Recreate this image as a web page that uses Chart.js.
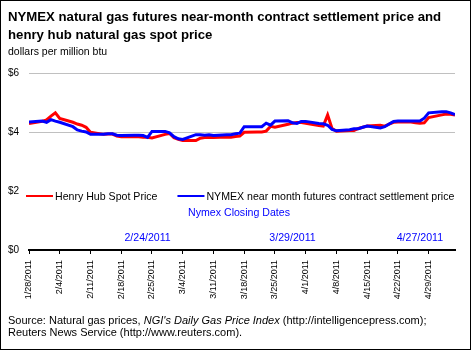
<!DOCTYPE html>
<html>
<head>
<meta charset="utf-8">
<script src="https://cdn.jsdelivr.net/npm/chart.js@4.4.1/dist/chart.umd.min.js"></script>
<style>
  html, body { margin: 0; padding: 0; background: #fff; }
  #wrap { position: relative; width: 471px; height: 350px; overflow: hidden; font-family: "Liberation Sans", Arial, sans-serif; color: #000; }
  #chart { position: absolute; left: 0; top: 0; }
  #frame { position: absolute; left: 0; top: 0; width: 471px; height: 350px; box-sizing: border-box; border: 1px solid #000; pointer-events: none; }
  .title { position: absolute; left: 8px; top: 8px; font-weight: bold; font-size: 13.2px; line-height: 18px; white-space: nowrap; }
  .units { position: absolute; left: 8px; top: 45px; font-size: 10.5px; line-height: 12px; }
  .source { position: absolute; left: 8px; top: 314px; font-size: 11px; line-height: 12px; white-space: nowrap; }
</style>
</head>
<body>
<div id="wrap">
  <canvas id="chart" width="471" height="350"></canvas>
  <div class="title">NYMEX natural gas futures near-month contract settlement price and<br>henry hub natural gas spot price</div>
  <div class="units">dollars per million btu</div>
  <div class="source">Source: Natural gas prices, <i>NGI's Daily Gas Price Index</i> (http://intelligencepress.com);<br>Reuters News Service (http://www.reuters.com).</div>
  <div id="frame"></div>
</div>
<script>
// 数据
const dates = [
    '1/28/2011', '1/31/2011', '2/1/2011', '2/2/2011', '2/3/2011', '2/4/2011',
    '2/7/2011', '2/8/2011', '2/9/2011', '2/10/2011', '2/11/2011',
    '2/14/2011', '2/15/2011', '2/16/2011', '2/17/2011', '2/18/2011',
    '2/21/2011', '2/22/2011', '2/23/2011', '2/24/2011', '2/25/2011',
    '2/28/2011', '3/1/2011', '3/2/2011', '3/3/2011', '3/4/2011',
    '3/7/2011', '3/8/2011', '3/9/2011', '3/10/2011', '3/11/2011',
    '3/14/2011', '3/15/2011', '3/16/2011', '3/17/2011', '3/18/2011',
    '3/21/2011', '3/22/2011', '3/23/2011', '3/24/2011', '3/25/2011',
    '3/28/2011', '3/29/2011', '3/30/2011', '3/31/2011', '4/1/2011',
    '4/4/2011', '4/5/2011', '4/6/2011', '4/7/2011', '4/8/2011',
    '4/11/2011', '4/12/2011', '4/13/2011', '4/14/2011', '4/15/2011',
    '4/18/2011', '4/19/2011', '4/20/2011', '4/21/2011', '4/22/2011',
    '4/25/2011', '4/26/2011', '4/27/2011', '4/28/2011', '4/29/2011',
    '5/2/2011', '5/3/2011', '5/4/2011', '5/5/2011'
];
const henryHub = [
    4.29, 4.36, 4.41, 4.54, 4.65, 4.46,
    4.33, 4.27, 4.23, 4.16, 3.99,
    3.92, 3.93, 3.93, 3.86, 3.84,
    3.84, 3.84, 3.82, 3.82, 3.80,
    3.92, 3.95, 3.81, 3.75, 3.71,
    3.71, 3.79, 3.81, 3.81, 3.81,
    3.83, 3.82, 3.85, 3.86, 3.99,
    4.00, 4.00, 4.03, 4.19, 4.16,
    4.26, 4.30, 4.32, 4.32, 4.30,
    4.22, 4.20, 4.58, 4.12, 4.03,
    4.05, 4.05, 4.12, 4.16, 4.20,
    4.23, 4.20, 4.27, 4.33, 4.34,
    4.34, 4.31, 4.30, 4.31, 4.49,
    4.58, 4.61, 4.60, 4.58
];
const nymex = [
    4.34, 4.37, 4.33, 4.42, 4.37, 4.33,
    4.18, 4.07, 4.03, 4.00, 3.92,
    3.92, 3.94, 3.94, 3.89, 3.88,
    3.89, 3.89, 3.88, 3.82, 4.02,
    4.02, 3.97, 3.84, 3.77, 3.75,
    3.91, 3.91, 3.89, 3.91, 3.88,
    3.91, 3.91, 3.94, 3.96, 4.18,
    4.18, 4.18, 4.30, 4.23, 4.37,
    4.38, 4.31, 4.29, 4.36, 4.36,
    4.29, 4.28, 4.23, 4.09, 4.04,
    4.08, 4.11, 4.11, 4.16, 4.20,
    4.14, 4.18, 4.27, 4.36, 4.37,
    4.37, 4.37, 4.37, 4.47, 4.65,
    4.69, 4.69, 4.65, 4.59
];
const tickDates = [
    '1/28/2011', '2/4/2011', '2/11/2011', '2/18/2011', '2/25/2011', '3/4/2011', '3/11/2011',
    '3/18/2011', '3/25/2011', '4/1/2011', '4/8/2011', '4/15/2011', '4/22/2011', '4/29/2011'
];
const closingDates = ['2/24/2011', '3/29/2011', '4/27/2011'];
const axisEnd = '5/5/2011';
const yTickLabels = ['$0', '$2', '$4', '$6'];

const FONT = '"Liberation Sans", Arial, sans-serif';
const start = new Date(2011, 0, 28);
function dayOf(s) {
    const p = s.split('/').map(Number);
    return Math.round((new Date(p[2], p[0] - 1, p[1]) - start) / 86400000);
}

// 图例和注释
const notes = {
    id: 'notes',
    afterDatasetsDraw(chart) {
        const ctx = chart.ctx;
        const a = chart.chartArea;
        const x = chart.scales.x;
        ctx.save();
        ctx.font = '10.6px ' + FONT;
        ctx.textBaseline = 'middle';
        ctx.textAlign = 'left';
        let lx = a.left - 3;
        const ly = a.top + 123;
        chart.data.datasets.forEach(ds => {
            ctx.strokeStyle = ds.borderColor;
            ctx.lineWidth = 2;
            ctx.beginPath();
            ctx.moveTo(lx, ly);
            ctx.lineTo(lx + 27, ly);
            ctx.stroke();
            ctx.fillStyle = '#000';
            ctx.fillText(ds.label, lx + 29, ly + 1);
            lx += 29 + ctx.measureText(ds.label).width + 20;
        });
        ctx.fillStyle = '#0000ff';
        ctx.textAlign = 'center';
        ctx.textBaseline = 'alphabetic';
        ctx.fillText('Nymex Closing Dates', a.left + 210, a.top + 143);
        closingDates.forEach(d => {
            ctx.fillText(d, x.getPixelForValue(dayOf(d)), a.top + 168);
        });
        ctx.restore();
    }
};

const ctx = document.getElementById('chart').getContext('2d');
new Chart(ctx, {
    type: 'line',
    data: {
        datasets: [{
            label: 'Henry Hub Spot Price',
            data: dates.map((d, i) => ({ x: dayOf(d), y: henryHub[i] })),
            borderColor: '#ff0000',
            borderWidth: 3,
            pointRadius: 0,
            tension: 0,
            order: 1
        }, {
            label: 'NYMEX near month futures contract settlement price',
            data: dates.map((d, i) => ({ x: dayOf(d), y: nymex[i] })),
            borderColor: '#0000ff',
            borderWidth: 3,
            pointRadius: 0,
            tension: 0,
            order: 0
        }]
    },
    options: {
        responsive: false,
        animation: false,
        layout: { padding: { left: 8, right: 16, top: 73, bottom: 40 } },
        plugins: {
            legend: { display: false },
            tooltip: { enabled: false }
        },
        scales: {
            x: {
                type: 'linear',
                min: 0,
                max: dayOf(axisEnd),
                afterBuildTicks: s => { s.ticks = tickDates.map(d => ({ value: dayOf(d) })); },
                afterFit: s => { s.height = 60; },
                ticks: {
                    autoSkip: false,
                    maxRotation: 90,
                    minRotation: 90,
                    padding: 6,
                    color: '#000',
                    font: { family: FONT, size: 9 },
                    callback: (v, i) => tickDates[i]
                },
                grid: { drawOnChartArea: false, drawTicks: true, tickLength: 4, color: '#000' },
                border: { display: true, color: '#000', width: 2 }
            },
            y: {
                min: 0,
                max: 6,
                afterFit: s => { s.width = 21; },
                ticks: {
                    stepSize: 2,
                    crossAlign: 'far',
                    padding: 0,
                    color: '#000',
                    font: { family: FONT, size: 10 },
                    callback: (v, i) => yTickLabels[i]
                },
                grid: {
                    drawTicks: false,
                    color: c => (c.tick && c.tick.value >= 4) ? '#c0c0c0' : 'rgba(0,0,0,0)'
                },
                border: { display: false }
            }
        }
    },
    plugins: [notes]
});
</script>
</body>
</html>
